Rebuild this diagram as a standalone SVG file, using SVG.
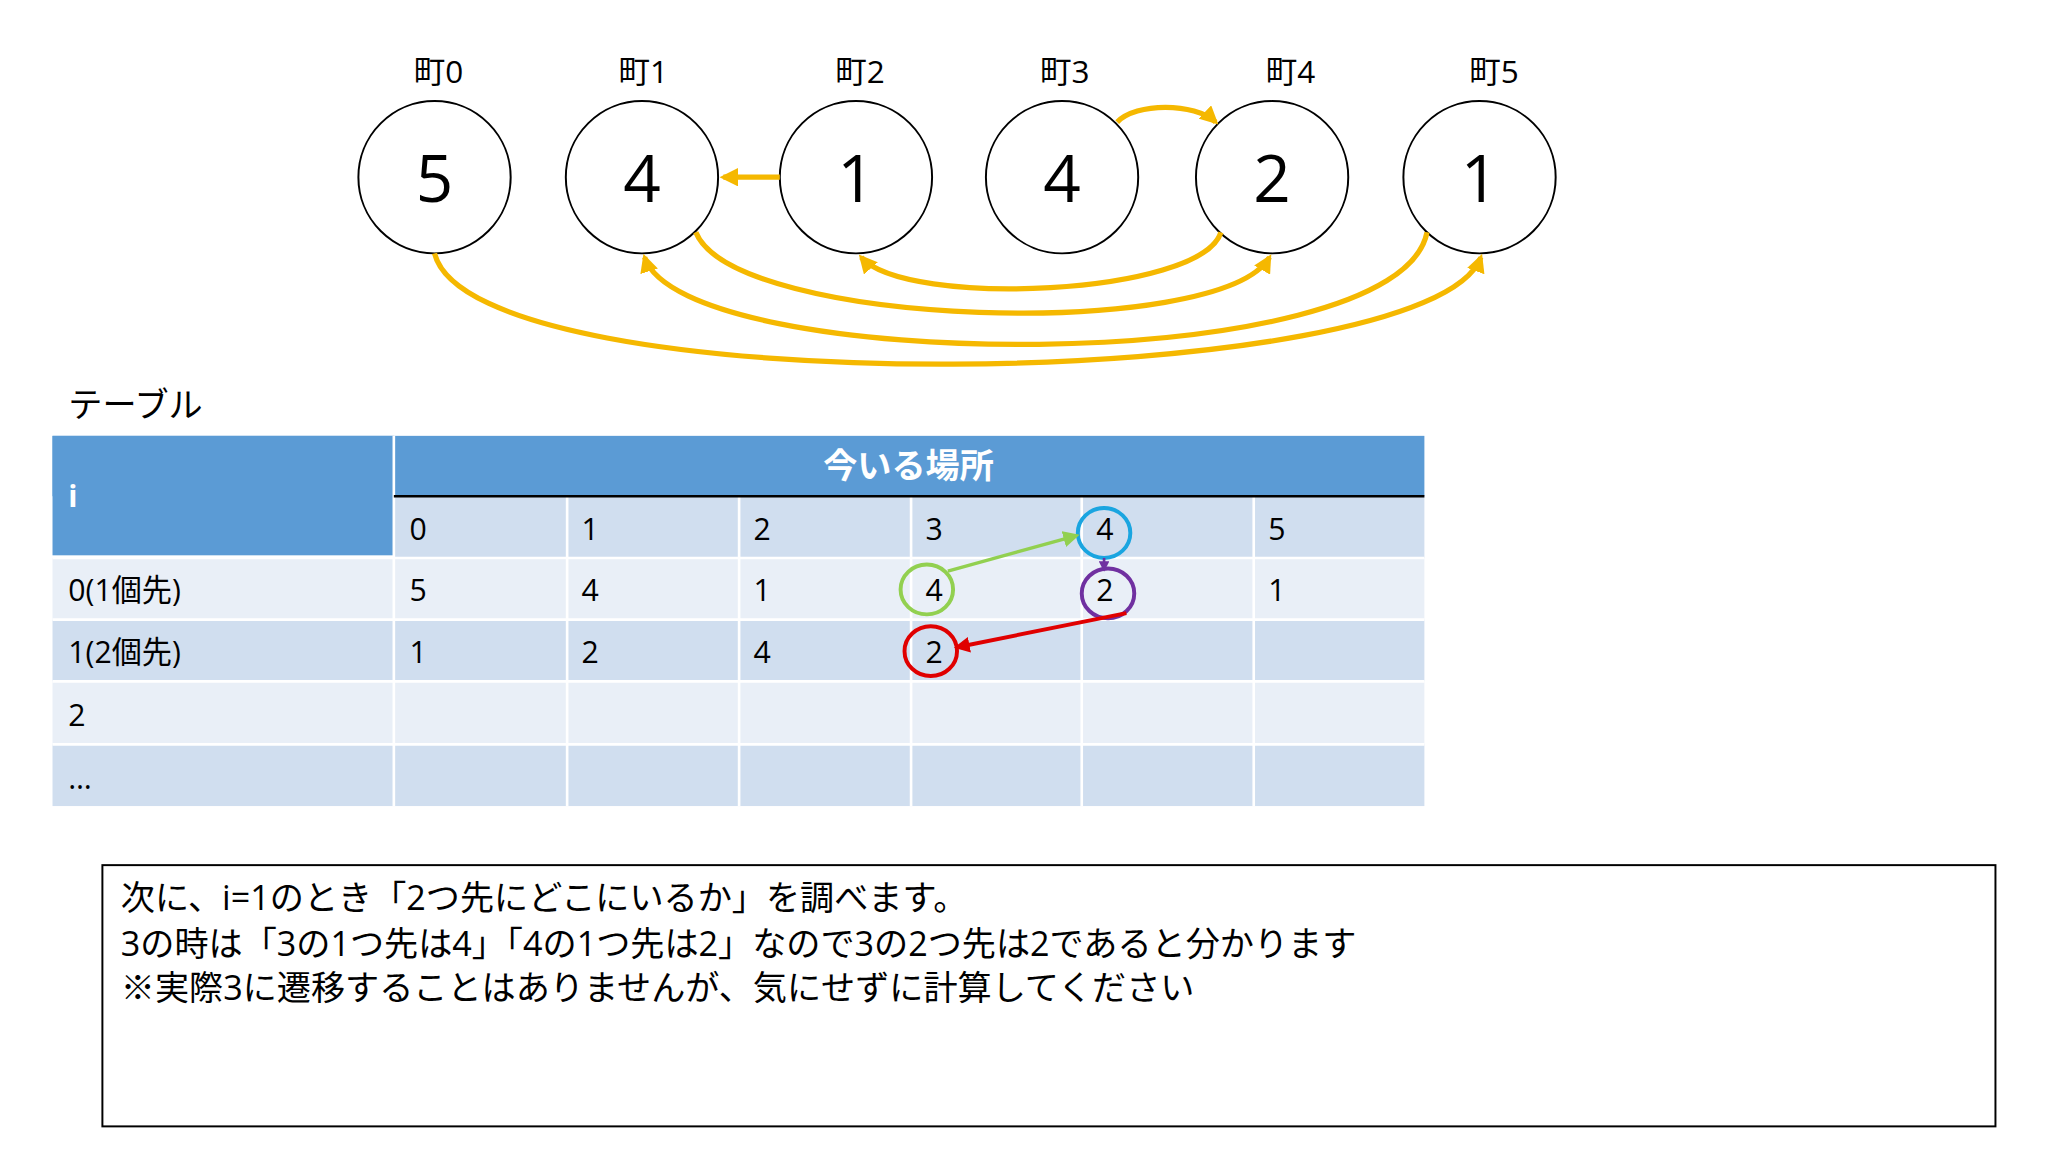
<svg xmlns="http://www.w3.org/2000/svg" width="2048" height="1152" viewBox="0 0 2048 1152">
<defs>
<style>
text{font-family:"Open Sans","Noto Sans CJK JP",sans-serif;fill:#000}
.node circle{fill:#fff;stroke:#000;stroke-width:1.5}
.lbl{font-size:24px;text-anchor:middle}
.num{font-size:50px;text-anchor:middle}
.o{fill:none;stroke:#F5B800;stroke-width:4}
.c{font-size:23px}
.d{fill:#D0DEEF}.l{fill:#E9EFF7}
.sep{stroke:#fff;stroke-width:2}
</style>
<marker id="ao" viewBox="0 0 10 10" refX="8" refY="5" markerWidth="3.5" markerHeight="3.5" orient="auto"><path d="M0,0L10,5L0,10z" fill="#F5B800"/></marker>
<marker id="ag" viewBox="0 0 10 10" refX="8" refY="5" markerWidth="5" markerHeight="5" orient="auto"><path d="M0,0L10,5L0,10z" fill="#92D050"/></marker>
<marker id="ap" viewBox="0 0 10 10" refX="8" refY="5" markerWidth="4" markerHeight="4" orient="auto"><path d="M0,0L10,5L0,10z" fill="#7030A0"/></marker>
<marker id="ar" viewBox="0 0 10 10" refX="8" refY="5" markerWidth="4" markerHeight="4" orient="auto"><path d="M0,0L10,5L0,10z" fill="#E00000"/></marker>
</defs>
<rect width="2048" height="1152" fill="#fff"/>
<g transform="scale(1.3128)">
<g id="n0" class="node"><text class="lbl" x="334" y="63">町0</text><circle cx="331" cy="135" r="58"/><text class="num" x="331" y="154">5</text></g>
<g id="n1" class="node"><text class="lbl" x="490" y="63">町1</text><circle cx="489" cy="135" r="58"/><text class="num" x="489" y="154">4</text></g>
<g id="n2" class="node"><text class="lbl" x="655" y="63">町2</text><circle cx="652" cy="135" r="58"/><text class="num" x="652" y="154">1</text></g>
<g id="n3" class="node"><text class="lbl" x="811" y="63">町3</text><circle cx="809" cy="135" r="58"/><text class="num" x="809" y="154">4</text></g>
<g id="n4" class="node"><text class="lbl" x="983" y="63">町4</text><circle cx="969" cy="135" r="58"/><text class="num" x="969" y="154">2</text></g>
<g id="n5" class="node"><text class="lbl" x="1138" y="63">町5</text><circle cx="1127" cy="135" r="58"/><text class="num" x="1127" y="154">1</text></g>
<g id="connectors">
<path class="o" d="M594,135L551,135" marker-end="url(#ao)"/>
<path class="o" d="M851,93C865,78 910,78 926,93" marker-end="url(#ao)"/>
<path class="o" d="M930,177C915,225 690,235 656,196" marker-end="url(#ao)"/>
<path class="o" d="M530,177C560,250 930,260 967,196" marker-end="url(#ao)"/>
<path class="o" d="M1087,177C1065,290 520,285 491,196" marker-end="url(#ao)"/>
<path class="o" d="M331,193C360,310 1090,300 1128,196" marker-end="url(#ao)"/>
</g>
<text x="52" y="318" style="font-size:26px">テーブル</text>
<g id="table">
<rect x="40" y="332" width="1045" height="46" fill="#5B9BD5"/>
<rect x="40" y="332" width="260" height="91" fill="#5B9BD5"/>
<rect x="300" y="378" width="785" height="47" class="d"/>
<rect x="40" y="425" width="1045" height="47" class="l"/>
<rect x="40" y="472" width="1045" height="47" class="d"/>
<rect x="40" y="519" width="1045" height="48" class="l"/>
<rect x="40" y="567" width="1045" height="47" class="d"/>
<g class="sep">
<line x1="300" y1="332" x2="300" y2="614"/>
<line x1="432" y1="378" x2="432" y2="614"/><line x1="563" y1="378" x2="563" y2="614"/>
<line x1="694" y1="378" x2="694" y2="614"/><line x1="824" y1="378" x2="824" y2="614"/>
<line x1="955" y1="378" x2="955" y2="614"/>
<line x1="40" y1="425" x2="1085" y2="425"/><line x1="40" y1="472" x2="1085" y2="472"/>
<line x1="40" y1="519" x2="1085" y2="519"/><line x1="40" y1="567" x2="1085" y2="567"/>
</g>
<line x1="300" y1="378" x2="1085" y2="378" stroke="#000" stroke-width="2"/>
<text x="692" y="364" style="font-size:26px;font-weight:bold;fill:#fff;text-anchor:middle">今いる場所</text>
<text x="52" y="386" class="c" style="fill:#fff;font-weight:bold">i</text>
<g class="c">
<text x="312" y="411" class="c">0</text><text x="443" y="411" class="c">1</text><text x="574" y="411" class="c">2</text><text x="705" y="411" class="c">3</text><text x="835" y="411" class="c">4</text><text x="966" y="411" class="c">5</text>
<text x="52" y="458" class="c">0(1個先)</text><text x="312" y="458" class="c">5</text><text x="443" y="458" class="c">4</text><text x="574" y="458" class="c">1</text><text x="705" y="458" class="c">4</text><text x="835" y="458" class="c">2</text><text x="966" y="458" class="c">1</text>
<text x="52" y="505" class="c">1(2個先)</text><text x="312" y="505" class="c">1</text><text x="443" y="505" class="c">2</text><text x="574" y="505" class="c">4</text><text x="705" y="505" class="c">2</text>
<text x="52" y="553" class="c">2</text>
<text x="52" y="601" class="c">…</text>
</g>
</g>
<g id="marks" fill="none" stroke-width="3">
<ellipse cx="841" cy="406" rx="20" ry="19" stroke="#1AA5E0"/>
<ellipse cx="706" cy="449" rx="20" ry="19" stroke="#92D050"/>
<ellipse cx="844" cy="452" rx="20" ry="19" stroke="#7030A0"/>
<ellipse cx="709" cy="496" rx="20" ry="19" stroke="#E00000"/>
</g>
<g id="connectors2">
<line x1="722" y1="435" x2="820" y2="408" stroke="#92D050" stroke-width="2.5" marker-end="url(#ag)"/>
<line x1="841" y1="425" x2="841" y2="434" stroke="#7030A0" stroke-width="2" marker-end="url(#ap)"/>
<line x1="858" y1="467" x2="729" y2="493" stroke="#E00000" stroke-width="3" marker-end="url(#ar)"/>
</g>
<g id="note">
<rect x="78" y="659" width="1442" height="199" fill="#fff" stroke="#000" stroke-width="1.5"/>
<text x="92" y="693" style="font-size:26px">次に、i=1のとき「2つ先にどこにいるか」を調べます。</text>
<text x="92" y="728" style="font-size:26px">3の時は「3の1つ先は4」「4の1つ先は2」なので3の2つ先は2であると分かります</text>
<text x="92" y="762" style="font-size:26px">※実際3に遷移することはありませんが、気にせずに計算してください</text>
</g>
</g>
</svg>
